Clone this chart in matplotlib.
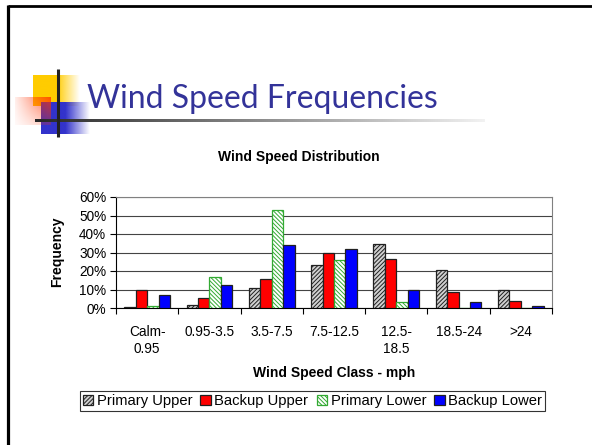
import matplotlib
matplotlib.use("Agg")
import matplotlib.pyplot as plt
import numpy as np

plt.rcParams['font.family'] = ['Liberation Sans', 'DejaVu Sans']
plt.rcParams['hatch.linewidth'] = 0.7

# data (percent)
categories = ['Calm-\n0.95', '0.95-3.5', '3.5-7.5', '7.5-12.5', '12.5-\n18.5', '18.5-24', '>24']
primary_upper = [0.3, 1.4, 10.7, 23.2, 34.5, 20.3, 9.7]
backup_upper = [10.0, 5.5, 15.5, 30.0, 26.4, 8.6, 4.0]
primary_lower = [1.2, 16.8, 52.9, 26.2, 3.0, 0.0, 0.0]
backup_lower = [6.8, 12.7, 33.9, 32.0, 10.0, 3.0, 1.3]
series_names = ['Primary Upper', 'Backup Upper', 'Primary Lower', 'Backup Lower']
y_ticks = [0, 10, 20, 30, 40, 50, 60]

W, H = 592, 445
fig = plt.figure(figsize=(W / 100, H / 100), dpi=100)

# ---- slide decoration (pixel coordinates) ----
bg = fig.add_axes([0, 0, 1, 1], zorder=0)
bg.set_xlim(0, W)
bg.set_ylim(H, 0)
bg.axis('off')


def grad_rect(ax, x0, x1, y0, y1, rgb, alpha_fn, n=200):
    xs = np.linspace(0, 1, n)
    ys = np.linspace(0, 1, n)
    X, Y = np.meshgrid(xs, ys)
    img = np.zeros((n, n, 4))
    img[..., 0], img[..., 1], img[..., 2] = rgb
    img[..., 3] = np.clip(alpha_fn(X, Y), 0, 1)
    ax.imshow(img, extent=(x0, x1, y1, y0), aspect='auto', interpolation='bilinear', zorder=2)


# yellow square, solid on the left, fading to the right
grad_rect(bg, 33, 80, 75.5, 106.5, (1.0, 0.8, 0.0), lambda X, Y: np.where(X < 0.5, 1.0, 1 - (X - 0.5) / 0.5))
# blue square
grad_rect(bg, 41, 90, 102.5, 134, (0.2, 0.2, 0.8), lambda X, Y: np.where(X < 0.5, 1.0, 1 - (X - 0.5) / 0.5))
# red square, strongest in upper right corner
grad_rect(bg, 15, 51, 97.5, 125.5, (1.0, 0.2, 0.0), lambda X, Y: 0.8 * np.clip(X * 0.9 + 0.1, 0, 1) * (1 - 0.7 * Y))

# horizontal gradient line
n = 400
strip = np.zeros((1, n, 3))
g = np.linspace(0.15, 0.95, n)
strip[0, :, 0] = g
strip[0, :, 1] = g
strip[0, :, 2] = g
bg.imshow(strip, extent=(35, 485, 122.5, 119.8), aspect='auto', zorder=3)
# vertical black line
bg.plot([57.5, 57.5], [69, 137], color='#222222', lw=2.2, solid_capstyle='butt', zorder=4)

# slide frame (top and left)
bg.plot([7.5, W], [6, 6], color='black', lw=2, solid_capstyle='butt')
bg.plot([7.5, 7.5], [5, H], color='black', lw=2.3, solid_capstyle='butt')

fig.text(87 / W, 1 - 108 / H, 'Wind Speed Frequencies', fontsize=23, color='#333399',
         family=['Lato', 'DejaVu Sans'], ha='left', va='baseline')

# ---- chart ----
ax = fig.add_axes([116 / W, 1 - 308 / H, 436 / W, 111 / H], zorder=1)
ax.patch.set_alpha(0)

x = np.arange(len(categories)) + 0.5
bw = 0.1835
offsets = [-1.5 * bw, -0.5 * bw, 0.5 * bw, 1.5 * bw]

b1 = ax.bar(x + offsets[0], primary_upper, bw, facecolor='#d0d0d0', edgecolor='#202020',
            hatch='////////', linewidth=0.9, zorder=3)
b2 = ax.bar(x + offsets[1], backup_upper, bw, facecolor='#ff0000', edgecolor='#202020',
            linewidth=0.9, zorder=3)
b3 = ax.bar(x + offsets[2], primary_lower, bw, facecolor='white', edgecolor='#33aa33',
            hatch='\\\\\\\\\\\\\\\\', linewidth=0.9, zorder=3)
b4 = ax.bar(x + offsets[3], backup_lower, bw, facecolor='#0000ff', edgecolor='#202020',
            linewidth=0.9, zorder=3)

ax.set_xlim(0, len(categories))
ax.set_ylim(0, 60)
ax.set_yticks(y_ticks)
ax.set_yticklabels([f'{v}%' for v in y_ticks], fontsize=9.8)
ax.set_xticks(np.arange(len(categories) + 1))
ax.set_xticklabels([])
ax.set_xticks(x, minor=True)
ax.set_xticklabels(categories, minor=True, fontsize=9.8, linespacing=1.3)
ax.tick_params(axis='x', which='major', direction='out', length=4.5, width=0.8)
ax.tick_params(axis='x', which='minor', length=0, pad=12)
ax.tick_params(axis='y', direction='out', length=4, width=0.8, pad=3)

ax.grid(axis='y', color='#444444', linewidth=0.8, zorder=0)
ax.set_axisbelow(True)
ax.spines['top'].set_color('#808080')
ax.spines['right'].set_color('#808080')
for s in ax.spines.values():
    s.set_linewidth(0.8)

fig.text(299 / W, 1 - 157 / H, 'Wind Speed Distribution', fontsize=10, fontweight='bold',
         ha='center', va='center')
fig.text(334 / W, 1 - 373 / H, 'Wind Speed Class - mph', fontsize=10, fontweight='bold',
         ha='center', va='center')
fig.text(57.5 / W, 1 - 252 / H, 'Frequency', fontsize=10, fontweight='bold',
         ha='center', va='center', rotation=90)

leg = fig.legend([b1, b2, b3, b4], series_names, loc='center', bbox_to_anchor=(312.5 / W, 1 - 401 / H),
                 ncol=4, fontsize=10.6, frameon=True, fancybox=False, edgecolor='black',
                 handlelength=0.7, handleheight=0.7, handletextpad=0.25, columnspacing=0.55,
                 borderpad=0.2, borderaxespad=0)
leg.get_frame().set_linewidth(0.8)

fig.savefig('out.png', dpi=100)
